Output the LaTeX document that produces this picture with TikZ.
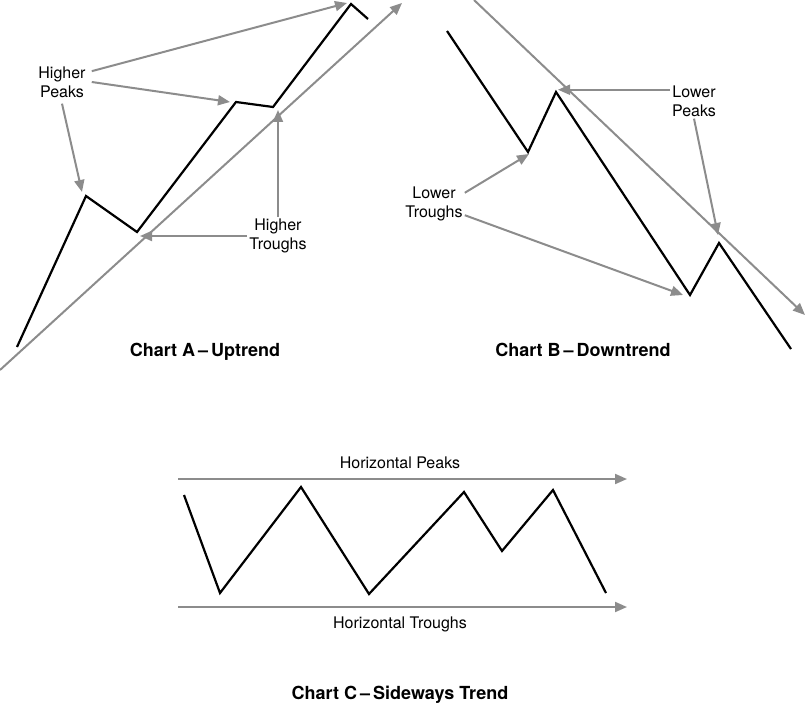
\documentclass[tikz,border=0pt]{standalone}
\usepackage{fontspec}
\setmainfont{TeX Gyre Heros}
\usetikzlibrary{arrows.meta}
\definecolor{trendgray}{HTML}{8C8C8C}

\begin{document}
\begin{tikzpicture}[
        x=1pt, y=-1pt,
        every node/.style={font=\fontsize{16}{19}\selectfont, inner sep=2pt},
        price/.style={draw=black, line width=2.2pt},
        trend/.style={draw=trendgray, line width=2pt,
                -{Triangle[length=12pt, width=10pt]}},
        lab/.style={align=center},
        chartlab/.style={font=\fontsize{18}{22}\selectfont\bfseries, anchor=base}
    ]
    \useasboundingbox (0,0) rectangle (805,703);

    % =============== (A) uptrend ===============
    \coordinate (a0) at (17,347);
    \coordinate (a1) at (86,196);
    \coordinate (a2) at (137,232);
    \coordinate (a3) at (236,102);
    \coordinate (a4) at (273,107);
    \coordinate (a5) at (351,4);
    \coordinate (a6) at (368,19);
    \draw[price] (a0) -- (a1) -- (a2) -- (a3) -- (a4) -- (a5) -- (a6);

    \coordinate (ua) at (0,370);
    \coordinate (ub) at (402,3);
    \draw[trend] (ua) -- (ub);

    % pointer tips
    \coordinate (hpk1) at (347,3);
    \coordinate (hpk2) at (230,102);
    \coordinate (hpk3) at (82,192);
    \coordinate (htr1) at (140,235);
    \coordinate (htr2) at (276,110);

    \node[lab, inner sep=6pt] (hpeaks) at (62,82) {Higher\\Peaks};
    \draw[trend] (hpeaks.20) -- (hpk1);
    \draw[trend] (hpeaks.east) -- (hpk2);
    \draw[trend] (hpeaks.south) -- (hpk3);

    \node[lab] (htroughs) at (278,236) {Higher\\Troughs};
    \draw[trend] (htroughs.west) -- (htroughs.west -| htr1);
    \draw[trend] (htroughs.north) -- (htroughs.north |- htr2);

    \node[chartlab] (charta) at (205,356) {Chart A\,--\,Uptrend};

    % =============== (B) downtrend ===============
    \coordinate (b0) at (447,31);
    \coordinate (b1) at (528,152);
    \coordinate (b2) at (556,92);
    \coordinate (b3) at (690,295);
    \coordinate (b4) at (719,243);
    \coordinate (b5) at (791,349);
    \draw[price] (b0) -- (b1) -- (b2) -- (b3) -- (b4) -- (b5);

    \coordinate (da) at (474,0);
    \coordinate (db) at (805,315);
    \draw[trend] (da) -- (db);

    % pointer tips
    \coordinate (lpk1) at (558,90);
    \coordinate (lpk2) at (718,235);
    \coordinate (ltr1) at (529,154);
    \coordinate (ltr2) at (683,295);

    \node[lab] (lpeaks) at (694,101) {Lower\\Peaks};
    \draw[trend] (lpeaks.155) -- (lpeaks.155 -| lpk1);
    \draw[trend] (lpeaks.south) -- (lpk2);

    \node[lab] (ltroughs) at (434,204) {Lower\\Troughs};
    \draw[trend] (ltroughs.20) -- (ltr1);
    \draw[trend] (ltroughs.-20) -- (ltr2);

    \node[chartlab] (chartb) at (583,356) {Chart B\,--\,Downtrend};

    % =============== (C) sideways ===============
    \coordinate (c0) at (184,495);
    \coordinate (c1) at (220,593);
    \coordinate (c2) at (301,487);
    \coordinate (c3) at (369,594);
    \coordinate (c4) at (464,492);
    \coordinate (c5) at (502,551);
    \coordinate (c6) at (553,490);
    \coordinate (c7) at (606,593);
    \draw[price] (c0) -- (c1) -- (c2) -- (c3) -- (c4) -- (c5) -- (c6) -- (c7);

    \coordinate (sp0) at (178,479);
    \coordinate (sp1) at (627,479);
    \coordinate (st0) at (178,607);
    \coordinate (st1) at (627,607);
    \draw[trend] (sp0) -- (sp1);
    \draw[trend] (st0) -- (st1);

    \node (hzpeaks) at (400,463) {Horizontal Peaks};
    \node (hztroughs) at (400,624) {Horizontal Troughs};

    \node[chartlab] (chartc) at (400,699) {Chart C\,--\,Sideways Trend};

\end{tikzpicture}
\end{document}
